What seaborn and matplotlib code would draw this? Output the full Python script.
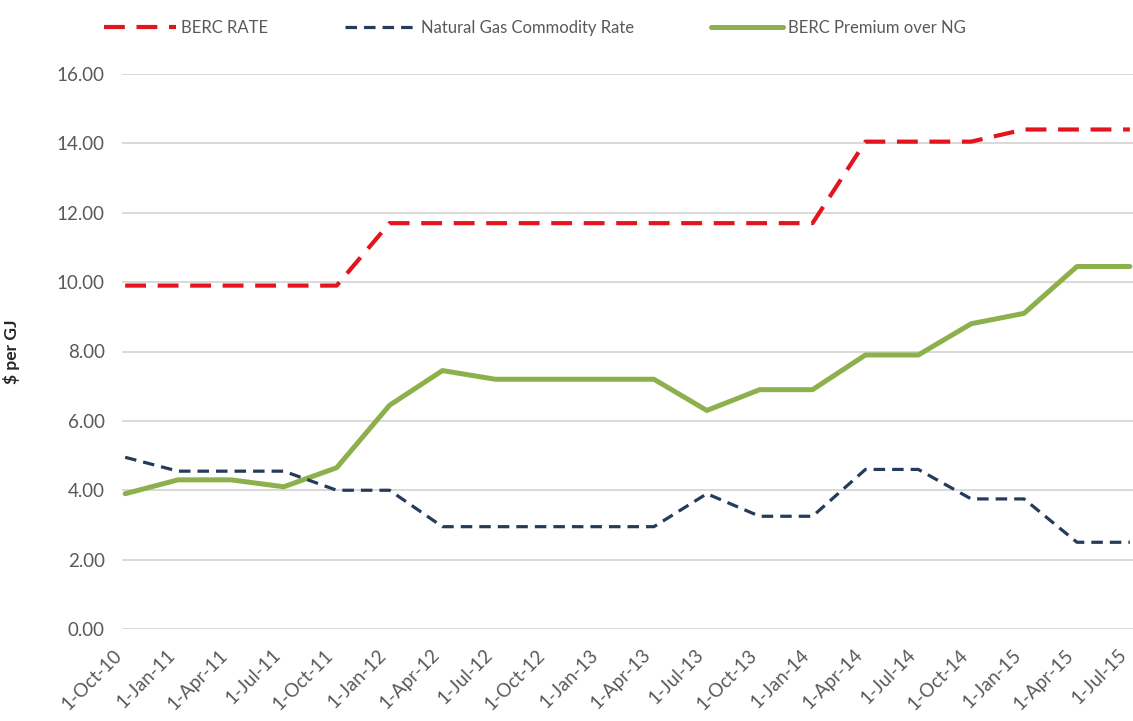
import matplotlib
matplotlib.use("Agg")
import matplotlib.pyplot as plt
import seaborn as sns
import pandas as pd

# Quarterly dates shown on the category axis
dates = ["1-Oct-10", "1-Jan-11", "1-Apr-11", "1-Jul-11", "1-Oct-11",
         "1-Jan-12", "1-Apr-12", "1-Jul-12", "1-Oct-12", "1-Jan-13",
         "1-Apr-13", "1-Jul-13", "1-Oct-13", "1-Jan-14", "1-Apr-14",
         "1-Jul-14", "1-Oct-14", "1-Jan-15", "1-Apr-15", "1-Jul-15"]

# $ per GJ
berc_rate = [9.90, 9.90, 9.90, 9.90, 9.90,
             11.70, 11.70, 11.70, 11.70, 11.70,
             11.70, 11.70, 11.70, 11.70, 14.05,
             14.05, 14.05, 14.40, 14.40, 14.40]
ng_rate = [4.95, 4.55, 4.55, 4.55, 4.00,
           4.00, 2.95, 2.95, 2.95, 2.95,
           2.95, 3.90, 3.25, 3.25, 4.60,
           4.60, 3.75, 3.75, 2.50, 2.50]
premium = [3.90, 4.30, 4.30, 4.10, 4.65,
           6.45, 7.45, 7.20, 7.20, 7.20,
           7.20, 6.30, 6.90, 6.90, 7.90,
           7.90, 8.80, 9.10, 10.45, 10.45]

y_ticks = [0, 2, 4, 6, 8, 10, 12, 14, 16]

df = pd.DataFrame({"pos": range(len(dates)), "date": dates,
                   "berc": berc_rate, "ng": ng_rate, "prem": premium})

sns.set_theme(style="white")
plt.rcParams["font.family"] = ["Lato", "DejaVu Sans"]

W, H = 1133, 721
fig = plt.figure(figsize=(W / 100, H / 100), dpi=100)
ax_left, ax_right, ax_top, ax_bottom = 122, 1133, 74, 629
ax = fig.add_axes([ax_left / W, 1 - ax_bottom / H,
                   (ax_right - ax_left) / W, (ax_bottom - ax_top) / H])

text_grey = "#595959"
red = "#E3141E"
navy = "#243C5A"
green = "#8CB04B"

sns.lineplot(data=df, x="pos", y="berc", ax=ax, color=red, linewidth=3.0,
             linestyle=(0, (5.0, 2.8)), label="BERC RATE", zorder=3)
sns.lineplot(data=df, x="pos", y="ng", ax=ax, color=navy, linewidth=2.3,
             linestyle=(0, (3.6, 2.2)), label="Natural Gas Commodity Rate", zorder=3)
sns.lineplot(data=df, x="pos", y="prem", ax=ax, color=green, linewidth=3.6,
             label="BERC Premium over NG", zorder=2)

for ln in ax.lines:
    ln.set_solid_joinstyle("round")
    ln.set_dash_joinstyle("round")

ax.set_xlim(-0.06, len(dates) - 1 + 0.06)
ax.set_ylim(0, 16)
ax.set_yticks(y_ticks)
ax.set_yticklabels([f"{v:.2f}" for v in y_ticks], color=text_grey, fontsize=13.5)
ax.set_xticks(df["pos"])
ax.set_xticklabels(df["date"], rotation=45, ha="right", va="bottom",
                   rotation_mode="anchor", color=text_grey, fontsize=13.5)

ax.tick_params(axis="both", length=0)
ax.tick_params(axis="y", pad=12.5)
ax.tick_params(axis="x", pad=21)
ax.grid(axis="y", color="#D9D9D9", linewidth=1.4)
ax.grid(axis="x", visible=False)
for s in ax.spines.values():
    s.set_visible(False)

ax.set_xlabel("")
ax.set_ylabel("$ per GJ", fontsize=12.5, fontweight="bold", color="#262626")
ax.yaxis.set_label_coords((20 - ax_left) / (ax_right - ax_left), 0.5)

handles, labels = ax.get_legend_handles_labels()
ax.get_legend().remove()
leg = fig.legend(handles, labels, loc="center", ncol=3,
                 bbox_to_anchor=(535 / W, 1 - 28 / H), frameon=False,
                 fontsize=12, handlelength=4.3, handletextpad=0.3,
                 columnspacing=4.6)
for t in leg.get_texts():
    t.set_color(text_grey)

fig.savefig("out.png", dpi=100)
